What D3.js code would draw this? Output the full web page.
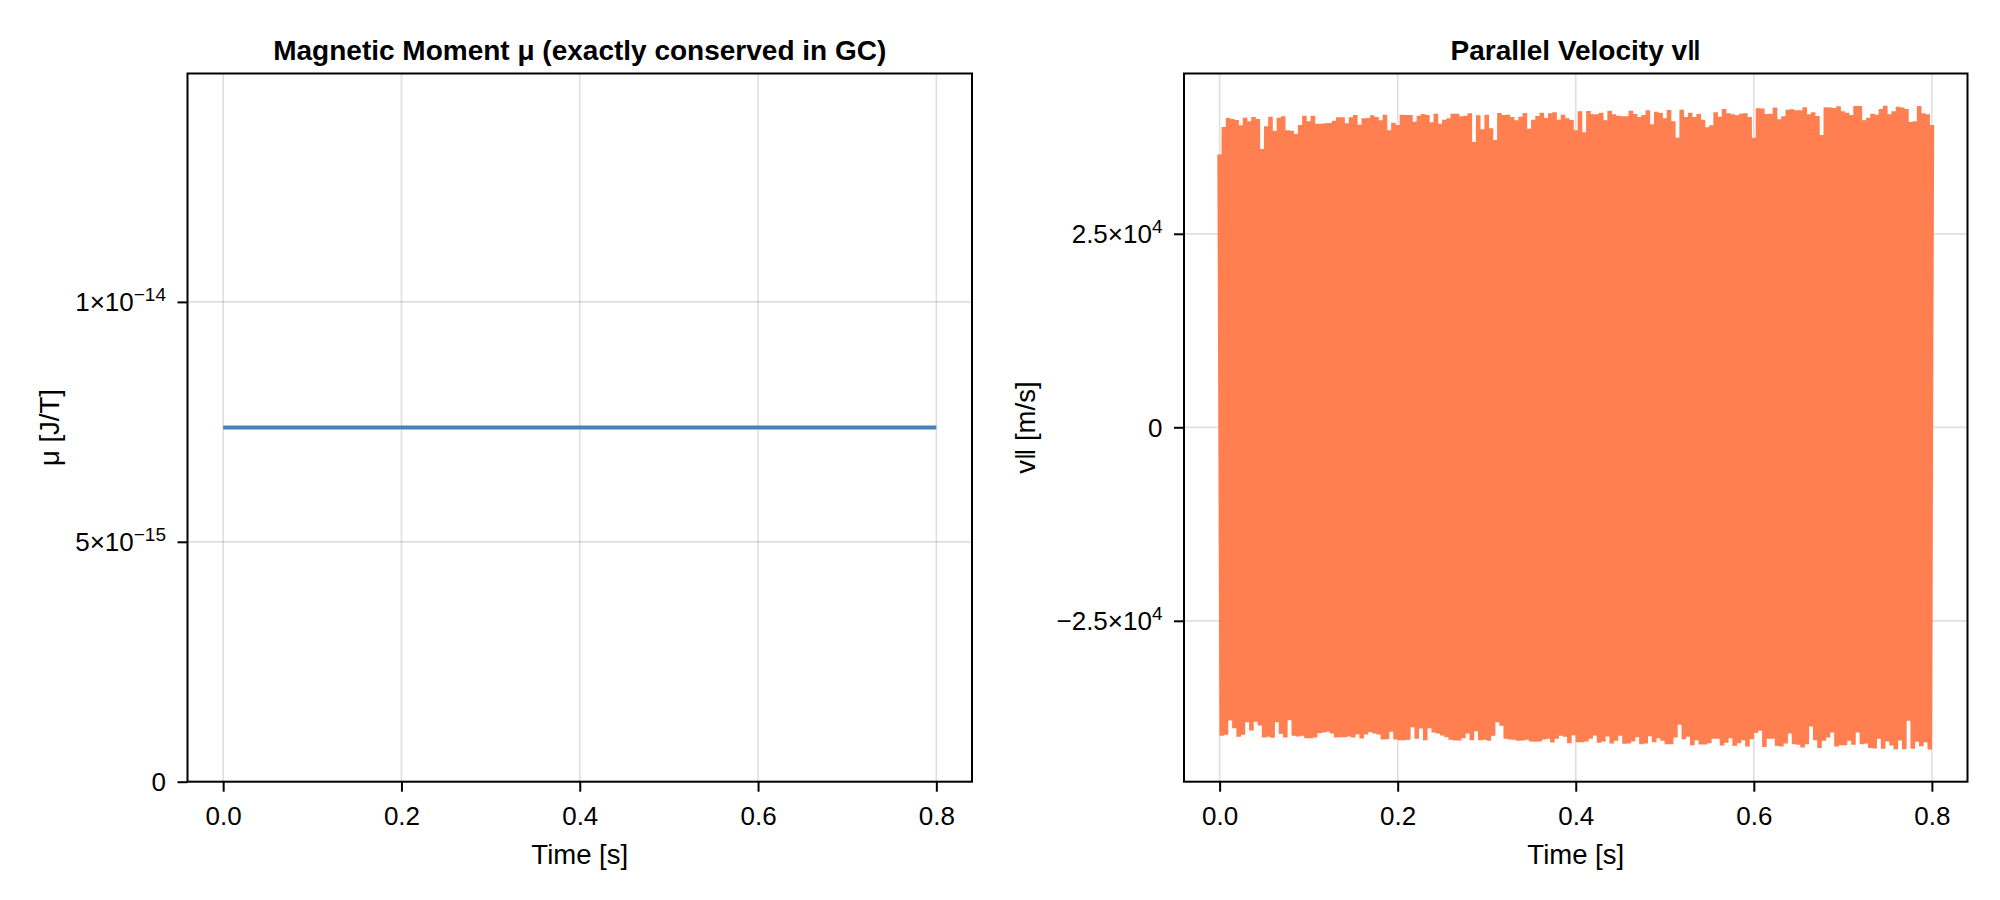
<!DOCTYPE html>
<html>
<head>
<meta charset="utf-8">
<script src="https://cdn.jsdelivr.net/npm/d3@7"></script>
<style>
  body { margin: 0; background: #fff; }
  text { font-family: "Liberation Sans", Arial, sans-serif; fill: #000; }
</style>
</head>
<body>
<div id="chart"></div>
<script>
// ---- data ----
var muTimes  = [0, 0.8];
var muValues = [7.38e-15, 7.38e-15];

var vparStart = 35260;   // v at t = 0
var vparTEnd  = 0.8;     // last sample time
// lowest value of each bounce (m/s), left to right
var vparTroughs = [
  -39860, -39730, -37880, -38870, -39990, -39730, -38100, -39170, -38050, -38530,
  -40080, -39990, -40120, -38100, -39610, -40080, -37840, -39860, -39950, -39860,
  -40170, -40170, -40080, -39520, -39430, -39350, -39560, -40080, -40040, -40040,
  -39950, -40080, -39650, -40210, -39690, -39390, -39560, -39690, -40340, -40290,
  -39350, -40340, -40420, -40420, -40380, -38740, -40250, -38920, -40420, -38870,
  -39430, -39560, -39820, -40040, -40380, -40470, -40470, -40170, -39560, -40420,
  -39260, -40420, -40380, -40510, -39860, -38100, -38570, -40250, -40340, -40380,
  -40510, -40470, -40380, -40600, -40640, -40600, -40340, -40250, -40730, -40250,
  -39860, -39990, -40810, -39780, -40680, -40680, -40600, -40250,
  -39820, -40770, -40600, -39950, -40860, -40510, -39860, -40900, -40860, -40600,
  -40040, -40940, -40860, -39910, -40680, -40170, -40510, -40940, -40940, -40080,
  -38440, -40290, -39990, -41070, -40420, -40980, -40980, -40810, -40250, -40250,
  -41110, -40770, -40170, -41160, -40810, -40420, -41240, -40290, -39480, -39220,
  -41290, -40250, -40250, -41160, -41240, -40860, -39560, -40940, -41030, -41370,
  -40940, -38660, -40420, -41420, -40510, -40080, -39430, -41240, -41070, -41070,
  -40510, -41030, -39430, -40940, -40860, -41420, -41500, -40250, -41540, -40600,
  -41110, -41590, -40470, -41590, -37920, -41540, -40640, -41200, -40680, -41630
];
// highest value of each bounce (m/s), left to right
var vparPeaks = [
  38800, 39960, 39830, 39700, 39010, 40000, 39530, 40090, 39830, 35950,
  38880, 40130, 38280, 40000, 40170, 38360, 38320, 37890, 39050, 40260,
  39530, 40260, 39230, 39230, 39270, 39310, 39610, 40050, 40050, 39270,
  40050, 40350, 39100, 39920, 39960, 40300, 40090, 39660, 40390, 38360,
  39360, 39050, 40390, 40350, 40350, 39480, 40260, 40480, 40350, 39400,
  40520, 39230, 39740, 39920, 40520, 40520, 40170, 40260, 40560, 36860,
  40300, 38490, 40390, 38620, 37110, 40610, 40350, 40390, 40090, 39660,
  40130, 40610, 38580, 39740, 40220, 40650, 39960, 40560, 40690, 39740,
  40390, 39920, 39700, 38360,
  40820, 38110, 40860, 40430, 40430, 40650, 39660, 40910, 40430, 40260,
  40170, 40170, 40910, 40480, 40090, 40350, 40950, 39140, 40780, 40610,
  39920, 40990, 39530, 37420, 41040, 40090, 40650, 40090, 40480, 39740,
  38750, 39010, 40690, 40130, 41120, 40560, 40430, 40300, 40520, 40560,
  40090, 37420, 41210, 41170, 40480, 40520, 41300, 39790, 40170, 41040,
  41080, 40950, 40950, 41340, 40430, 40690, 40220, 37760, 41340, 41300,
  41250, 41470, 40820, 40650, 40350, 41510, 41510, 39660, 40000, 40520,
  40390, 41120, 41550, 40430, 40820, 41420, 41300, 41120, 39440, 39530,
  41510, 40560, 40430, 39050
];

var xTicks = [0, 0.2, 0.4, 0.6, 0.8];
var muTicks = [0, 5e-15, 1e-14];
var muTickLabels = [["0", ""], ["5×10", "−15"], ["1×10", "−14"]];
var vparTicks = [-25000, 0, 25000];
var vparTickLabels = [["−2.5×10", "4"], ["0", ""], ["2.5×10", "4"]];

// ---- build series ----
var muData = muTimes.map(function(t, i) { return {t: t, v: muValues[i]}; });

var step = vparTEnd / vparPeaks.length;
var vparData = [{t: 0, v: vparStart}];
vparPeaks.forEach(function(p, i) {
  vparData.push({t: (i + 0.5) * step, v: vparTroughs[i]});
  vparData.push({t: (i + 1) * step, v: p});
});

var svg = d3.select("#chart")
    .append("svg")
    .attr("width", 2000)
    .attr("height", 900);

var plotTop = 73.5, plotBottom = 781.7;
var tickFont = 26, supFont = 19, labelFont = 27.5;

// Makie-style 5% margin on auto limits
function padExtent(ext) {
  var m = (ext[1] - ext[0]) * 0.05;
  return [ext[0] - m, ext[1] + m];
}

function drawPanel(p) {
  var g = svg.append("g");

  var x = d3.scaleLinear()
      .domain(padExtent(d3.extent(p.data, function(d) { return d.t; })))
      .range([p.left, p.right]);
  var y = d3.scaleLinear()
      .domain(p.yDomain)
      .range([plotBottom, plotTop]);

  // grid
  g.append("g").selectAll("line")
      .data(p.xTicks).enter().append("line")
      .attr("x1", function(d) { return x(d); })
      .attr("x2", function(d) { return x(d); })
      .attr("y1", plotTop).attr("y2", plotBottom)
      .attr("stroke", "rgba(0,0,0,0.12)")
      .attr("stroke-width", 1.7);
  g.append("g").selectAll("line")
      .data(p.yTicks).enter().append("line")
      .attr("x1", p.left).attr("x2", p.right)
      .attr("y1", function(d) { return y(d); })
      .attr("y2", function(d) { return y(d); })
      .attr("stroke", "rgba(0,0,0,0.12)")
      .attr("stroke-width", 1.7);

  // the line
  g.append("path")
      .datum(p.data)
      .attr("fill", "none")
      .attr("stroke", p.color)
      .attr("stroke-width", p.lineWidth)
      .attr("d", d3.line()
          .x(function(d) { return x(d.t); })
          .y(function(d) { return y(d.v); })
      );

  // X axis
  var xa = g.append("g")
      .attr("transform", "translate(0," + plotBottom + ")")
      .call(d3.axisBottom(x).tickValues(p.xTicks).tickFormat(d3.format(".1f"))
          .tickSize(10).tickPadding(15));
  xa.select(".domain").remove();
  xa.selectAll(".tick line").attr("stroke", "#000").attr("stroke-width", 2);
  xa.selectAll(".tick text")
      .attr("font-size", tickFont)
      .attr("font-family", "Liberation Sans, Arial, sans-serif")
      .attr("fill", "#000");

  // Y axis with superscript labels
  var ya = g.append("g")
      .attr("transform", "translate(" + p.left + ",0)")
      .call(d3.axisLeft(y).tickValues(p.yTicks).tickFormat("")
          .tickSize(10).tickPadding(11.5));
  ya.select(".domain").remove();
  ya.selectAll(".tick line").attr("stroke", "#000").attr("stroke-width", 2);
  ya.selectAll(".tick text")
      .attr("font-size", tickFont)
      .attr("font-family", "Liberation Sans, Arial, sans-serif")
      .attr("fill", "#000")
      .attr("dy", "0.35em")
      .each(function(d, i) {
        var t = d3.select(this);
        var lab = p.yTickLabels[i];
        t.append("tspan").text(lab[0]);
        if (lab[1]) {
          t.append("tspan").attr("font-size", supFont).attr("dy", -10).text(lab[1]);
        }
      });

  // frame
  g.append("rect")
      .attr("x", p.left).attr("y", plotTop)
      .attr("width", p.right - p.left).attr("height", plotBottom - plotTop)
      .attr("fill", "none")
      .attr("stroke", "#000")
      .attr("stroke-width", 2);

  // title
  g.append("text")
      .attr("x", (p.left + p.right) / 2)
      .attr("y", 60)
      .attr("text-anchor", "middle")
      .attr("font-size", 28)
      .attr("font-weight", "bold")
      .text(p.title);

  // axis labels
  g.append("text")
      .attr("x", (p.left + p.right) / 2)
      .attr("y", 864)
      .attr("text-anchor", "middle")
      .attr("font-size", labelFont)
      .text("Time [s]");
  g.append("text")
      .attr("transform", "translate(" + p.yLabelX + "," + ((plotTop + plotBottom) / 2) + ") rotate(-90)")
      .attr("text-anchor", "middle")
      .attr("font-size", labelFont)
      .text(p.yLabel);
}

drawPanel({
  left: 187.5, right: 972,
  data: muData,
  yDomain: [0, 2 * d3.max(muValues)],
  xTicks: xTicks,
  yTicks: muTicks,
  yTickLabels: muTickLabels,
  color: "steelblue",
  lineWidth: 4,
  title: "Magnetic Moment μ (exactly conserved in GC)",
  yLabel: "μ [J/T]",
  yLabelX: 59
});

drawPanel({
  left: 1184, right: 1967.5,
  data: vparData,
  yDomain: padExtent(d3.extent(vparData, function(d) { return d.v; })),
  xTicks: xTicks,
  yTicks: vparTicks,
  yTickLabels: vparTickLabels,
  color: "coral",
  lineWidth: 4.6,
  title: "Parallel Velocity v‖",
  yLabel: "v‖ [m/s]",
  yLabelX: 1035
});
</script>
</body>
</html>
